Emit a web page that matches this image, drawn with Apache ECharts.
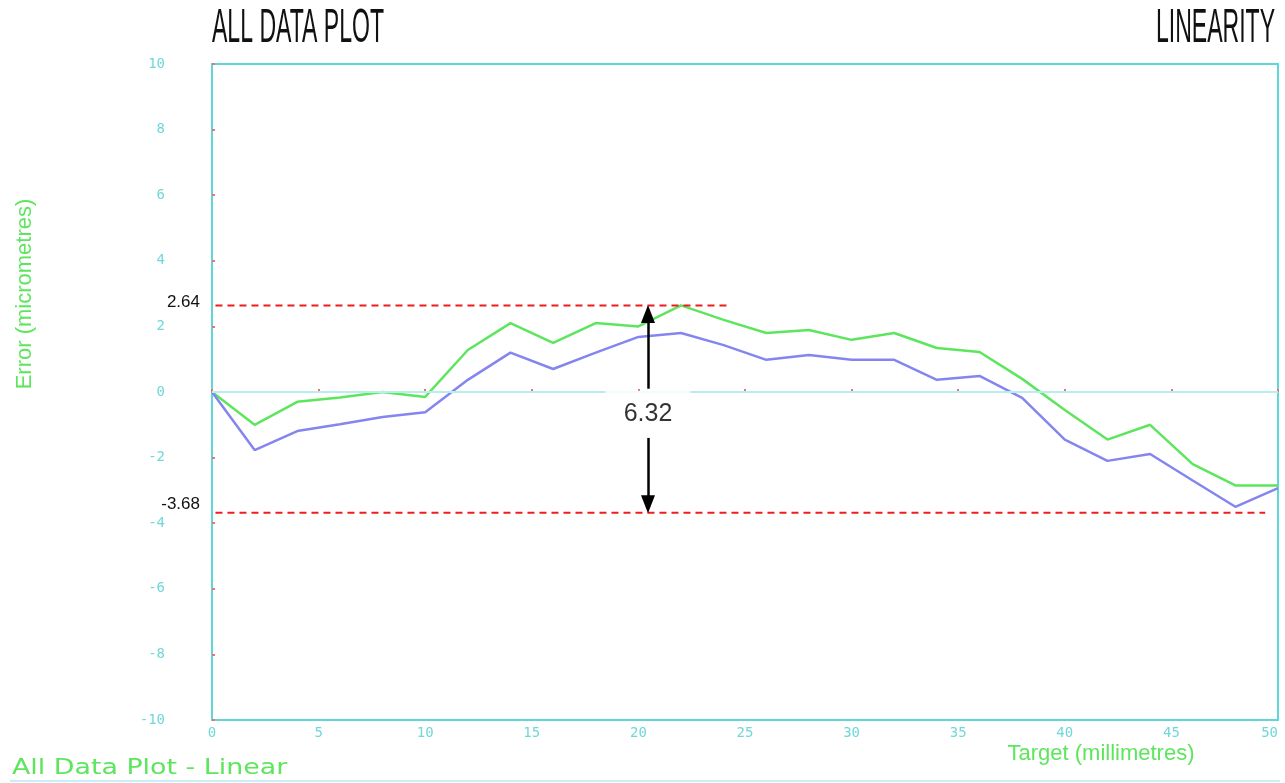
<!DOCTYPE html>
<html>
<head>
<meta charset="utf-8">
<title>All Data Plot - Linearity</title>
<script src="https://cdn.jsdelivr.net/npm/echarts@6/dist/echarts.min.js"></script>
<style>
  html, body { margin: 0; padding: 0; background: #fff; }
  #chart { width: 1285px; height: 783px; }
</style>
</head>
<body>
<div id="chart"></div>
<script>
// target positions (mm)
const targets = [0, 2, 4, 6, 8, 10, 12, 14, 16, 18, 20, 22, 24, 26, 28, 30, 32, 34, 36, 38, 40, 42, 44, 46, 48, 50]
// error readings (um) - upper (green) and lower (blue) runs
const upperErr = [0, -1.0, -0.3, -0.17, 0.0, -0.15, 1.28, 2.1, 1.5, 2.1, 2.0, 2.64, 2.2, 1.8, 1.89, 1.59, 1.8, 1.34, 1.22, 0.4, -0.55, -1.45, -1.0, -2.2, -2.85, -2.85]
const lowerErr = [0, -1.77, -1.19, -0.98, -0.76, -0.62, 0.37, 1.2, 0.7, 1.2, 1.68, 1.8, 1.43, 0.98, 1.13, 0.98, 0.98, 0.37, 0.49, -0.18, -1.45, -2.1, -1.89, -2.7, -3.5, -2.93]

// tick labels
const yTicks = [-10, -8, -6, -4, -2, 0, 2, 4, 6, 8, 10]
const xTicks = [0, 5, 10, 15, 20, 25, 30, 35, 40, 45, 50]

// annotation: max / min limits and the span between them
const limitValues = [2.64, -3.68]
const limitLabels = ['2.64', '-3.68']
const limitFromX = [-0.4, -0.4]
const limitToX = [24.2, 49.4]
const spanText = '6.32'
const spanX = 20.45
const spanLabelY = -0.66
const arrowUp = [0.1, 2.38]
const arrowDown = [-1.4, -3.42]

const CYAN = '#5fd6d8'
const GREEN = '#5de65d'
const BLUE = '#8585f0'
const RED = '#ee1c1c'
const SANS = '"Liberation Sans", Arial, sans-serif'

const chart = echarts.init(document.getElementById('chart'))

const pairs = (ys) => targets.map((x, i) => [x, ys[i]])

// one dashed limit line, labelled at its left end
const limitSeries = (i, labelLift) => ({
  type: 'line',
  z: 4,
  clip: false,
  silent: true,
  symbol: 'circle',
  symbolSize: 1,
  showSymbol: true,
  itemStyle: { color: 'rgba(0,0,0,0)' },
  lineStyle: { color: RED, width: 2, type: [7, 5] },
  data: [
    {
      value: [limitFromX[i], limitValues[i]],
      label: {
        show: true,
        position: 'left',
        distance: 3,
        offset: [0, -labelLift],
        formatter: limitLabels[i],
        color: '#111',
        fontFamily: SANS,
        fontSize: 17
      }
    },
    [limitToX[i], limitValues[i]]
  ]
})

const option = {
  backgroundColor: '#fff',
  animation: false,
  grid: {
    left: 212,
    right: 7,
    top: 64,
    bottom: 63,
    show: true,
    borderColor: CYAN,
    borderWidth: 2,
    backgroundColor: 'transparent'
  },
  xAxis: {
    type: 'value',
    min: xTicks[0],
    max: xTicks[xTicks.length - 1],
    interval: 5,
    axisLine: { lineStyle: { color: CYAN, width: 2 } },
    axisTick: { inside: true, length: 3, lineStyle: { color: '#f07070', width: 2 } },
    splitLine: { show: false },
    axisLabel: {
      color: '#70d8d8',
      fontFamily: 'DejaVu Sans Mono',
      fontSize: 14,
      margin: 6,
      alignMaxLabel: 'right'
    }
  },
  yAxis: {
    type: 'value',
    min: yTicks[0],
    max: yTicks[yTicks.length - 1],
    interval: 2,
    axisLine: { lineStyle: { color: CYAN, width: 2 } },
    axisTick: { inside: true, length: 3, lineStyle: { color: '#f07070', width: 2 } },
    splitLine: { show: false },
    axisLabel: {
      color: '#70d8d8',
      fontFamily: 'DejaVu Sans Mono',
      fontSize: 14,
      margin: 47
    }
  },
  series: [
    {
      // zero reference line
      type: 'line',
      data: [],
      z: 1,
      silent: true,
      markLine: {
        silent: true,
        symbol: ['none', 'none'],
        label: { show: false },
        lineStyle: { color: '#b9eeee', width: 2, type: 'solid' },
        data: [[{ coord: [xTicks[0], 0] }, { coord: [xTicks[xTicks.length - 1], 0] }]]
      }
    },
    {
      name: 'Upper',
      type: 'line',
      data: pairs(upperErr),
      symbol: 'none',
      z: 3,
      lineStyle: { color: GREEN, width: 2.5 }
    },
    {
      name: 'Lower',
      type: 'line',
      data: pairs(lowerErr),
      symbol: 'none',
      z: 3,
      lineStyle: { color: BLUE, width: 2.5 }
    },
    limitSeries(0, 3),
    limitSeries(1, 8),
    {
      // span arrows
      type: 'line',
      data: [],
      z: 4,
      silent: true,
      markLine: {
        silent: true,
        label: { show: false },
        lineStyle: { color: '#000', width: 2.5, type: 'solid' },
        itemStyle: { color: '#000' },
        data: [
          [
            { coord: [spanX, arrowUp[0]], symbol: 'none' },
            { coord: [spanX, arrowUp[1]], symbol: 'triangle', symbolSize: [14, 18] }
          ],
          [
            { coord: [spanX, arrowDown[0]], symbol: 'none' },
            { coord: [spanX, arrowDown[1]], symbol: 'triangle', symbolSize: [14, 18] }
          ]
        ]
      }
    },
    {
      // span value label
      type: 'scatter',
      data: [[spanX, spanLabelY]],
      symbolSize: 0,
      z: 5,
      silent: true,
      label: {
        show: true,
        position: 'inside',
        formatter: spanText,
        color: '#000',
        fontFamily: SANS,
        fontSize: 25,
        lineHeight: 26,
        backgroundColor: '#fff',
        padding: [14, 18, 6, 18]
      }
    }
  ],
  graphic: [
    {
      type: 'text', x: 212, y: 29, scaleX: 0.48,
      style: {
        text: 'ALL DATA PLOT', fill: '#111', font: '48px ' + SANS,
        align: 'left', verticalAlign: 'middle'
      }
    },
    {
      type: 'text', x: 1275, y: 29, scaleX: 0.48,
      style: {
        text: 'LINEARITY', fill: '#111', font: '48px ' + SANS,
        align: 'right', verticalAlign: 'middle'
      }
    },
    {
      type: 'text', x: 25, y: 294, rotation: Math.PI / 2,
      style: {
        text: 'Error (micrometres)', fill: GREEN, font: '22px ' + SANS,
        align: 'center', verticalAlign: 'middle'
      }
    },
    {
      type: 'text', x: 1101, y: 754,
      style: {
        text: 'Target (millimetres)', fill: GREEN, font: '22px ' + SANS,
        align: 'center', verticalAlign: 'middle'
      }
    },
    {
      type: 'text', x: 12, y: 768, scaleX: 1.22,
      style: {
        text: 'All Data Plot - Linear', fill: GREEN, font: '22px "DejaVu Sans"',
        align: 'left', verticalAlign: 'middle'
      }
    },
    {
      type: 'line',
      shape: { x1: 10, y1: 781, x2: 1280, y2: 781 },
      style: { stroke: '#c6f0f6', lineWidth: 2 }
    }
  ]
}

chart.setOption(option)
window.addEventListener('resize', () => chart.resize())
</script>
</body>
</html>
